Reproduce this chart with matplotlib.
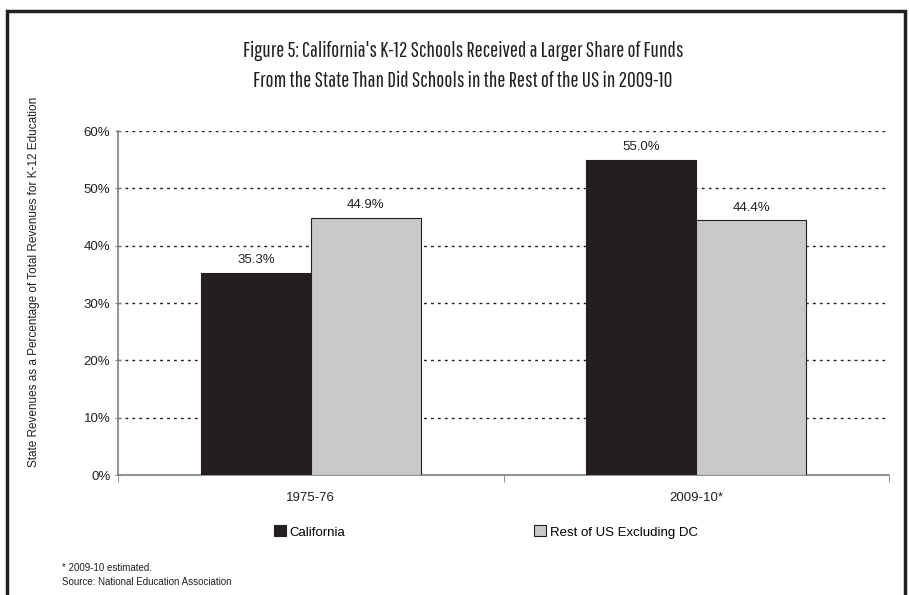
import matplotlib.pyplot as plt
from matplotlib.patches import Rectangle
import numpy as np

plt.rcParams['font.family'] = ['Liberation Sans', 'DejaVu Sans']

# Datos
periodos = ['1975-76', '2009-10*']
california = [35.3, 55.0]
resto_us = [44.9, 44.4]
series = ['California', 'Rest of US Excluding DC']

titulo = ("Figure 5: California's K-12 Schools Received a Larger Share of Funds\n"
          "From the State Than Did Schools in the Rest of the US in 2009-10")

fig = plt.figure(figsize=(9.09, 5.95), dpi=100)
ax = fig.add_axes([118/909, 1 - 475/595, (889-118)/909, (475-131)/595])

x = np.arange(len(periodos))
ancho = 0.285
b1 = ax.bar(x - ancho/2, california, ancho, color='#231f20', edgecolor='#231f20', linewidth=0.8,
            label=series[0], zorder=3)
b2 = ax.bar(x + ancho/2, resto_us, ancho, color='#c8c9cb', edgecolor='#231f20', linewidth=0.8,
            label=series[1], zorder=3)

for barras in (b1, b2):
    for r in barras:
        ax.text(r.get_x() + r.get_width()/2, r.get_height() + 1.2, f'{r.get_height():.1f}%',
                ha='center', va='bottom', fontsize=9.5, color='#231f20')

ax.set_xlim(-0.5, 1.5)
ax.set_ylim(0, 60)
ax.set_yticks(np.arange(0, 61, 10))
ax.set_yticklabels([f'{v}%' for v in range(0, 61, 10)], fontsize=9.5, color='#231f20')
ax.set_xticks(x)
ax.set_xticklabels(periodos, fontsize=9.5, color='#231f20')
ax.tick_params(axis='x', length=0, pad=12)
ax.tick_params(axis='y', length=5, direction='inout', color='#808080', pad=3)
ax.set_xticks([-0.5, 0.5, 1.5], minor=True)
ax.tick_params(axis='x', which='minor', length=5, direction='out', color='#808080')

ax.yaxis.grid(True, linestyle=(0, (2, 3)), color='#231f20', linewidth=1.0, zorder=0)
ax.set_axisbelow(True)
for s in ['top', 'right']:
    ax.spines[s].set_visible(False)
for s in ['left', 'bottom']:
    ax.spines[s].set_color('#808080')
    ax.spines[s].set_linewidth(1.2)

ax.set_ylabel('State Revenues as a Percentage of Total Revenues for K-12 Education',
              fontsize=8.5, color='#231f20')
ax.yaxis.set_label_coords(-78/771, 0.56)

# titulo con fuente condensada
fig.text(463/909, 1 - 66/595, titulo, ha='center', va='center', fontsize=15.5,
         family=['Pathway Gothic One', 'DejaVu Sans'], color='#231f20', linespacing=1.65)

fig.legend(handles=[b1, b2], labels=series, loc='center', bbox_to_anchor=(486/909, 1 - 532/595),
           ncol=2, frameon=False, fontsize=9.5, handlelength=0.9, handleheight=0.9,
           handletextpad=0.3, columnspacing=14.3)

fig.text(62/909, 1 - 568/595, '* 2009-10 estimated.', fontsize=7, color='#231f20', va='center')
fig.text(62/909, 1 - 582/595, 'Source: National Education Association', fontsize=7,
         color='#231f20', va='center')

# marco exterior
fig.patches.append(Rectangle((7/909, -0.05), (905-7)/909, 1.05 - 11/595, transform=fig.transFigure,
                             fill=False, edgecolor='#231f20', linewidth=2.5))

fig.savefig('out.png', dpi=100, facecolor='white')
